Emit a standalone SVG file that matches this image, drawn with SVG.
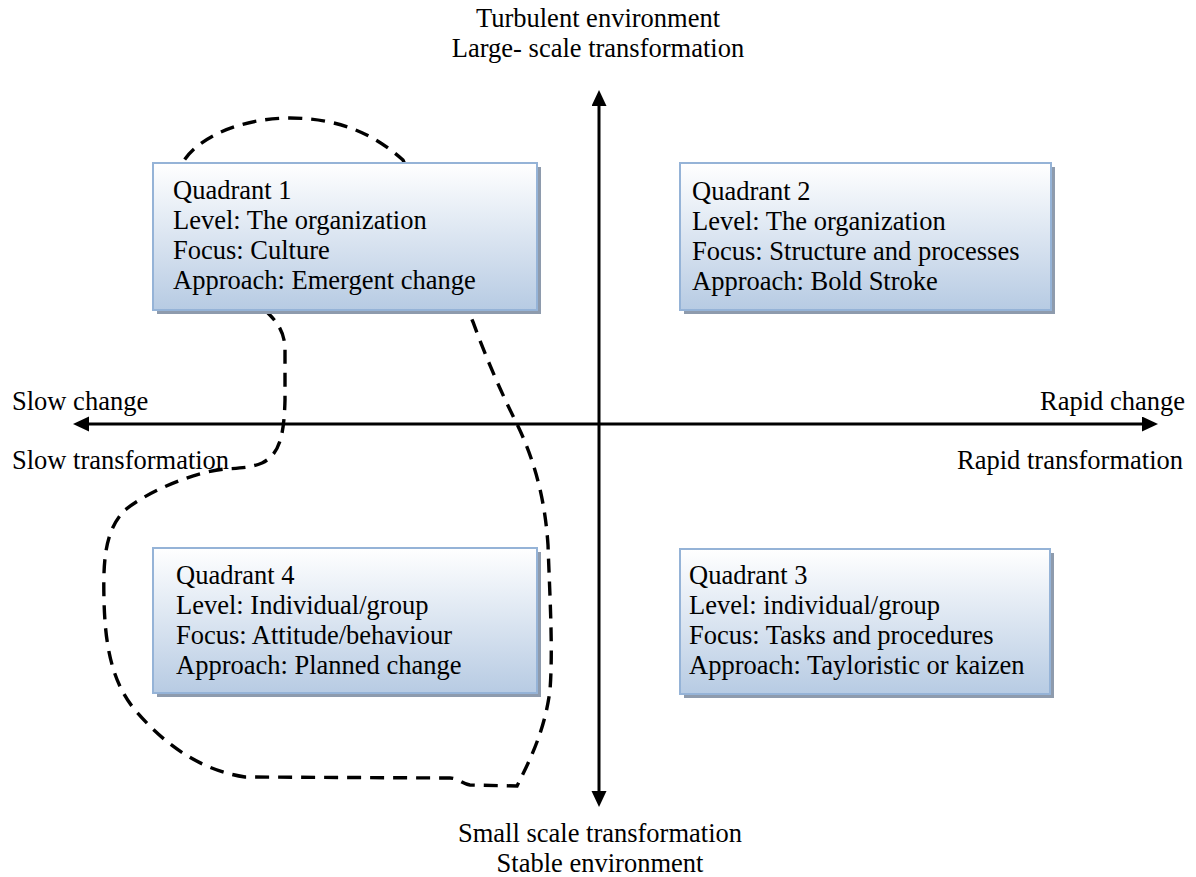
<svg xmlns="http://www.w3.org/2000/svg" width="1196" height="877" viewBox="0 0 1196 877">
<style>
.t{font-family:'Liberation Serif','DejaVu Serif','Noto Serif',serif;font-size:26.5px;fill:#000}
.box{fill:url(#g);stroke:#95b3d7;stroke-width:2}
.sh{fill:#8e9bad}
.axis{stroke:#000;stroke-width:3;fill:none}
.dash{stroke:#000;stroke-width:3.4;fill:none;stroke-dasharray:14 9}
</style>
<defs>
<linearGradient id="g" x1="0" y1="0" x2="0" y2="1">
<stop offset="0" stop-color="#ffffff"/>
<stop offset="1" stop-color="#b7cbe3"/>
</linearGradient>
<marker id="ah" markerUnits="userSpaceOnUse" markerWidth="17" markerHeight="16" refX="1" refY="7.5" orient="auto-start-reverse">
<path d="M0,0 L16,7.5 L0,15 Z" fill="#000"/>
</marker>
</defs>
<g id="connectors">
<line class="axis" x1="88" y1="424" x2="1143" y2="424" marker-start="url(#ah)" marker-end="url(#ah)"/>
<line class="axis" x1="599" y1="105" x2="599" y2="792" marker-start="url(#ah)" marker-end="url(#ah)"/>
<path id="boundary" class="dash" d="M265,310 C275,320 285,330 285,350 L285,400 C284,440 278,455 262,463 C250,468 240,468 225,469 C195,472 150,490 125,510 C105,530 103,560 104,600 C105,640 110,680 135,710 C165,745 200,770 245,777 L450,778 C458,778 462,784 470,785 L517,786 C530,760 545,730 550,690 C553,650 550,600 548,545 C545,500 535,460 515,420 C500,390 485,355 473,322 L403,160 C375,135 340,118 290,118 C245,118 200,135 183,162 Z"/>
</g>
<g id="labels" class="t" font-family="'Liberation Serif','DejaVu Serif',serif">
<text class="t" x="598" y="27" text-anchor="middle">Turbulent environment</text>
<text class="t" x="598" y="57" text-anchor="middle">Large- scale transformation</text>
<text class="t" x="600" y="842" text-anchor="middle">Small scale transformation</text>
<text class="t" x="600" y="872" text-anchor="middle">Stable environment</text>
<text class="t" x="12" y="410">Slow change</text>
<text class="t" x="12" y="469">Slow transformation</text>
<text class="t" x="1185" y="410" text-anchor="end">Rapid change</text>
<text class="t" x="1183" y="469" text-anchor="end">Rapid transformation</text>
</g>
<g id="q1">
<rect class="sh" x="157" y="167" width="384" height="147"/>
<rect class="box" x="153" y="163" width="384" height="147"/>
<text class="t" x="173" y="199">Quadrant 1</text>
<text class="t" x="173" y="229">Level: The organization</text>
<text class="t" x="173" y="259">Focus: Culture</text>
<text class="t" x="173" y="289">Approach: Emergent change</text>
</g>
<g id="q2">
<rect class="sh" x="684" y="167" width="371" height="147"/>
<rect class="box" x="680" y="163" width="371" height="147"/>
<text class="t" x="692" y="200">Quadrant 2</text>
<text class="t" x="692" y="230">Level: The organization</text>
<text class="t" x="692" y="260">Focus: Structure and processes</text>
<text class="t" x="692" y="290">Approach: Bold Stroke</text>
</g>
<g id="q4">
<rect class="sh" x="157" y="552" width="384" height="145"/>
<rect class="box" x="153" y="548" width="384" height="145"/>
<text class="t" x="176" y="584">Quadrant 4</text>
<text class="t" x="176" y="614">Level: Individual/group</text>
<text class="t" x="176" y="644">Focus: Attitude/behaviour</text>
<text class="t" x="176" y="674">Approach: Planned change</text>
</g>
<g id="q3">
<rect class="sh" x="684" y="553" width="370" height="145"/>
<rect class="box" x="680" y="549" width="370" height="145"/>
<text class="t" x="689" y="584">Quadrant 3</text>
<text class="t" x="689" y="614">Level: individual/group</text>
<text class="t" x="689" y="644">Focus: Tasks and procedures</text>
<text class="t" x="689" y="674">Approach: Tayloristic or kaizen</text>
</g>
</svg>
